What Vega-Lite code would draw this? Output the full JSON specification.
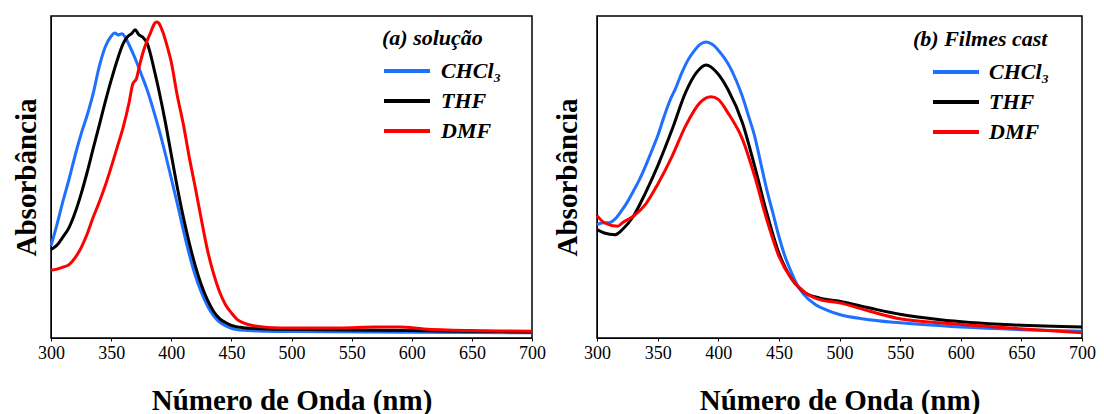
{
  "$schema": "https://vega.github.io/schema/vega-lite/v6.json",
  "background": "white",
  "padding": {"left": 11, "top": 15, "right": 5, "bottom": 0},
  "spacing": 5,
  "config": {
    "font": "Liberation Serif",
    "view": {"stroke": "#000", "strokeWidth": 1.5},
    "axis": {"grid": false, "labelFont": "Liberation Serif", "titleFont": "Liberation Serif", "labelColor": "#000", "titleColor": "#000", "domainColor": "#000", "tickColor": "#000"},
    "legend": {"padding": 0, "symbolType": "stroke", "symbolSize": 2116, "symbolStrokeWidth": 4, "labelFont": "Liberation Serif", "labelFontSize": 22, "labelFontStyle": "italic", "labelFontWeight": "bold", "labelColor": "#000", "titleFont": "Liberation Serif", "titleFontSize": 22, "titleFontStyle": "italic", "titleFontWeight": "bold", "titleColor": "#000", "titleLimit": 400, "rowPadding": 8, "clipHeight": 22, "labelOffset": 9, "titlePadding": 10}
  },
  "datasets": {
    "a": [
      {"solvent": "CHCl₃", "wl": 300, "abs": 0.286}, {"solvent": "CHCl₃", "wl": 305, "abs": 0.353}, {"solvent": "CHCl₃", "wl": 310, "abs": 0.426}, {"solvent": "CHCl₃", "wl": 315, "abs": 0.493}, {"solvent": "CHCl₃", "wl": 320, "abs": 0.566}, {"solvent": "CHCl₃", "wl": 325, "abs": 0.633}, {"solvent": "CHCl₃", "wl": 330, "abs": 0.691}, {"solvent": "CHCl₃", "wl": 335, "abs": 0.758}, {"solvent": "CHCl₃", "wl": 340, "abs": 0.841}, {"solvent": "CHCl₃", "wl": 345, "abs": 0.903}, {"solvent": "CHCl₃", "wl": 350, "abs": 0.937}, {"solvent": "CHCl₃", "wl": 353, "abs": 0.947}, {"solvent": "CHCl₃", "wl": 356, "abs": 0.941}, {"solvent": "CHCl₃", "wl": 359, "abs": 0.945}, {"solvent": "CHCl₃", "wl": 362, "abs": 0.932}, {"solvent": "CHCl₃", "wl": 365, "abs": 0.910}, {"solvent": "CHCl₃", "wl": 370, "abs": 0.868}, {"solvent": "CHCl₃", "wl": 375, "abs": 0.820}, {"solvent": "CHCl₃", "wl": 380, "abs": 0.770}, {"solvent": "CHCl₃", "wl": 385, "abs": 0.710}, {"solvent": "CHCl₃", "wl": 390, "abs": 0.645}, {"solvent": "CHCl₃", "wl": 395, "abs": 0.573}, {"solvent": "CHCl₃", "wl": 400, "abs": 0.496}, {"solvent": "CHCl₃", "wl": 405, "abs": 0.418}, {"solvent": "CHCl₃", "wl": 410, "abs": 0.336}, {"solvent": "CHCl₃", "wl": 415, "abs": 0.260}, {"solvent": "CHCl₃", "wl": 420, "abs": 0.194}, {"solvent": "CHCl₃", "wl": 425, "abs": 0.142}, {"solvent": "CHCl₃", "wl": 430, "abs": 0.101}, {"solvent": "CHCl₃", "wl": 435, "abs": 0.070}, {"solvent": "CHCl₃", "wl": 440, "abs": 0.050}, {"solvent": "CHCl₃", "wl": 445, "abs": 0.038}, {"solvent": "CHCl₃", "wl": 450, "abs": 0.030}, {"solvent": "CHCl₃", "wl": 460, "abs": 0.024}, {"solvent": "CHCl₃", "wl": 480, "abs": 0.021}, {"solvent": "CHCl₃", "wl": 500, "abs": 0.020}, {"solvent": "CHCl₃", "wl": 600, "abs": 0.018}, {"solvent": "CHCl₃", "wl": 700, "abs": 0.016},
      {"solvent": "THF", "wl": 300, "abs": 0.275}, {"solvent": "THF", "wl": 303, "abs": 0.282}, {"solvent": "THF", "wl": 306, "abs": 0.293}, {"solvent": "THF", "wl": 310, "abs": 0.314}, {"solvent": "THF", "wl": 315, "abs": 0.343}, {"solvent": "THF", "wl": 320, "abs": 0.389}, {"solvent": "THF", "wl": 325, "abs": 0.447}, {"solvent": "THF", "wl": 330, "abs": 0.514}, {"solvent": "THF", "wl": 335, "abs": 0.587}, {"solvent": "THF", "wl": 340, "abs": 0.659}, {"solvent": "THF", "wl": 345, "abs": 0.732}, {"solvent": "THF", "wl": 350, "abs": 0.800}, {"solvent": "THF", "wl": 355, "abs": 0.862}, {"solvent": "THF", "wl": 360, "abs": 0.914}, {"solvent": "THF", "wl": 364, "abs": 0.937}, {"solvent": "THF", "wl": 367, "abs": 0.945}, {"solvent": "THF", "wl": 370, "abs": 0.957}, {"solvent": "THF", "wl": 373, "abs": 0.942}, {"solvent": "THF", "wl": 376, "abs": 0.935}, {"solvent": "THF", "wl": 380, "abs": 0.915}, {"solvent": "THF", "wl": 383, "abs": 0.878}, {"solvent": "THF", "wl": 386, "abs": 0.830}, {"solvent": "THF", "wl": 390, "abs": 0.764}, {"solvent": "THF", "wl": 395, "abs": 0.672}, {"solvent": "THF", "wl": 400, "abs": 0.570}, {"solvent": "THF", "wl": 405, "abs": 0.468}, {"solvent": "THF", "wl": 410, "abs": 0.376}, {"solvent": "THF", "wl": 415, "abs": 0.295}, {"solvent": "THF", "wl": 420, "abs": 0.224}, {"solvent": "THF", "wl": 425, "abs": 0.165}, {"solvent": "THF", "wl": 430, "abs": 0.119}, {"solvent": "THF", "wl": 435, "abs": 0.084}, {"solvent": "THF", "wl": 440, "abs": 0.061}, {"solvent": "THF", "wl": 445, "abs": 0.048}, {"solvent": "THF", "wl": 450, "abs": 0.039}, {"solvent": "THF", "wl": 460, "abs": 0.032}, {"solvent": "THF", "wl": 480, "abs": 0.028}, {"solvent": "THF", "wl": 500, "abs": 0.027}, {"solvent": "THF", "wl": 550, "abs": 0.025}, {"solvent": "THF", "wl": 600, "abs": 0.023}, {"solvent": "THF", "wl": 650, "abs": 0.021}, {"solvent": "THF", "wl": 700, "abs": 0.019},
      {"solvent": "DMF", "wl": 300, "abs": 0.210}, {"solvent": "DMF", "wl": 305, "abs": 0.214}, {"solvent": "DMF", "wl": 310, "abs": 0.220}, {"solvent": "DMF", "wl": 315, "abs": 0.228}, {"solvent": "DMF", "wl": 320, "abs": 0.249}, {"solvent": "DMF", "wl": 325, "abs": 0.280}, {"solvent": "DMF", "wl": 330, "abs": 0.322}, {"solvent": "DMF", "wl": 335, "abs": 0.374}, {"solvent": "DMF", "wl": 340, "abs": 0.421}, {"solvent": "DMF", "wl": 345, "abs": 0.472}, {"solvent": "DMF", "wl": 350, "abs": 0.530}, {"solvent": "DMF", "wl": 355, "abs": 0.592}, {"solvent": "DMF", "wl": 360, "abs": 0.654}, {"solvent": "DMF", "wl": 365, "abs": 0.732}, {"solvent": "DMF", "wl": 368, "abs": 0.789}, {"solvent": "DMF", "wl": 371, "abs": 0.805}, {"solvent": "DMF", "wl": 374, "abs": 0.852}, {"solvent": "DMF", "wl": 377, "abs": 0.893}, {"solvent": "DMF", "wl": 380, "abs": 0.924}, {"solvent": "DMF", "wl": 383, "abs": 0.950}, {"solvent": "DMF", "wl": 386, "abs": 0.976}, {"solvent": "DMF", "wl": 388, "abs": 0.981}, {"solvent": "DMF", "wl": 390, "abs": 0.976}, {"solvent": "DMF", "wl": 393, "abs": 0.950}, {"solvent": "DMF", "wl": 396, "abs": 0.914}, {"solvent": "DMF", "wl": 400, "abs": 0.857}, {"solvent": "DMF", "wl": 405, "abs": 0.753}, {"solvent": "DMF", "wl": 410, "abs": 0.665}, {"solvent": "DMF", "wl": 415, "abs": 0.561}, {"solvent": "DMF", "wl": 420, "abs": 0.467}, {"solvent": "DMF", "wl": 425, "abs": 0.369}, {"solvent": "DMF", "wl": 430, "abs": 0.275}, {"solvent": "DMF", "wl": 435, "abs": 0.202}, {"solvent": "DMF", "wl": 440, "abs": 0.145}, {"solvent": "DMF", "wl": 445, "abs": 0.104}, {"solvent": "DMF", "wl": 450, "abs": 0.078}, {"solvent": "DMF", "wl": 455, "abs": 0.057}, {"solvent": "DMF", "wl": 460, "abs": 0.047}, {"solvent": "DMF", "wl": 470, "abs": 0.037}, {"solvent": "DMF", "wl": 480, "abs": 0.033}, {"solvent": "DMF", "wl": 500, "abs": 0.031}, {"solvent": "DMF", "wl": 540, "abs": 0.031}, {"solvent": "DMF", "wl": 570, "abs": 0.034}, {"solvent": "DMF", "wl": 590, "abs": 0.034}, {"solvent": "DMF", "wl": 610, "abs": 0.028}, {"solvent": "DMF", "wl": 650, "abs": 0.023}, {"solvent": "DMF", "wl": 700, "abs": 0.021}
    ],
    "b": [
      {"solvent": "CHCl₃", "wl": 300, "abs": 0.352}, {"solvent": "CHCl₃", "wl": 305, "abs": 0.358}, {"solvent": "CHCl₃", "wl": 310, "abs": 0.358}, {"solvent": "CHCl₃", "wl": 315, "abs": 0.370}, {"solvent": "CHCl₃", "wl": 320, "abs": 0.394}, {"solvent": "CHCl₃", "wl": 325, "abs": 0.422}, {"solvent": "CHCl₃", "wl": 330, "abs": 0.456}, {"solvent": "CHCl₃", "wl": 335, "abs": 0.492}, {"solvent": "CHCl₃", "wl": 340, "abs": 0.534}, {"solvent": "CHCl₃", "wl": 345, "abs": 0.580}, {"solvent": "CHCl₃", "wl": 350, "abs": 0.627}, {"solvent": "CHCl₃", "wl": 355, "abs": 0.684}, {"solvent": "CHCl₃", "wl": 360, "abs": 0.736}, {"solvent": "CHCl₃", "wl": 365, "abs": 0.777}, {"solvent": "CHCl₃", "wl": 370, "abs": 0.824}, {"solvent": "CHCl₃", "wl": 375, "abs": 0.863}, {"solvent": "CHCl₃", "wl": 380, "abs": 0.891}, {"solvent": "CHCl₃", "wl": 385, "abs": 0.912}, {"solvent": "CHCl₃", "wl": 390, "abs": 0.919}, {"solvent": "CHCl₃", "wl": 395, "abs": 0.912}, {"solvent": "CHCl₃", "wl": 400, "abs": 0.894}, {"solvent": "CHCl₃", "wl": 405, "abs": 0.870}, {"solvent": "CHCl₃", "wl": 410, "abs": 0.839}, {"solvent": "CHCl₃", "wl": 415, "abs": 0.798}, {"solvent": "CHCl₃", "wl": 420, "abs": 0.749}, {"solvent": "CHCl₃", "wl": 425, "abs": 0.689}, {"solvent": "CHCl₃", "wl": 430, "abs": 0.627}, {"solvent": "CHCl₃", "wl": 435, "abs": 0.544}, {"solvent": "CHCl₃", "wl": 440, "abs": 0.461}, {"solvent": "CHCl₃", "wl": 445, "abs": 0.389}, {"solvent": "CHCl₃", "wl": 450, "abs": 0.316}, {"solvent": "CHCl₃", "wl": 455, "abs": 0.254}, {"solvent": "CHCl₃", "wl": 460, "abs": 0.207}, {"solvent": "CHCl₃", "wl": 465, "abs": 0.166}, {"solvent": "CHCl₃", "wl": 470, "abs": 0.138}, {"solvent": "CHCl₃", "wl": 480, "abs": 0.104}, {"solvent": "CHCl₃", "wl": 490, "abs": 0.086}, {"solvent": "CHCl₃", "wl": 500, "abs": 0.073}, {"solvent": "CHCl₃", "wl": 520, "abs": 0.059}, {"solvent": "CHCl₃", "wl": 550, "abs": 0.047}, {"solvent": "CHCl₃", "wl": 600, "abs": 0.034}, {"solvent": "CHCl₃", "wl": 650, "abs": 0.026}, {"solvent": "CHCl₃", "wl": 700, "abs": 0.021},
      {"solvent": "THF", "wl": 300, "abs": 0.337}, {"solvent": "THF", "wl": 306, "abs": 0.326}, {"solvent": "THF", "wl": 315, "abs": 0.321}, {"solvent": "THF", "wl": 321, "abs": 0.337}, {"solvent": "THF", "wl": 330, "abs": 0.378}, {"solvent": "THF", "wl": 340, "abs": 0.451}, {"solvent": "THF", "wl": 350, "abs": 0.534}, {"solvent": "THF", "wl": 362, "abs": 0.648}, {"solvent": "THF", "wl": 373, "abs": 0.762}, {"solvent": "THF", "wl": 382, "abs": 0.824}, {"solvent": "THF", "wl": 390, "abs": 0.848}, {"solvent": "THF", "wl": 399, "abs": 0.824}, {"solvent": "THF", "wl": 408, "abs": 0.772}, {"solvent": "THF", "wl": 420, "abs": 0.668}, {"solvent": "THF", "wl": 430, "abs": 0.534}, {"solvent": "THF", "wl": 440, "abs": 0.389}, {"solvent": "THF", "wl": 450, "abs": 0.264}, {"solvent": "THF", "wl": 461, "abs": 0.181}, {"solvent": "THF", "wl": 472, "abs": 0.140}, {"solvent": "THF", "wl": 484, "abs": 0.124}, {"solvent": "THF", "wl": 500, "abs": 0.114}, {"solvent": "THF", "wl": 525, "abs": 0.093}, {"solvent": "THF", "wl": 551, "abs": 0.073}, {"solvent": "THF", "wl": 583, "abs": 0.057}, {"solvent": "THF", "wl": 641, "abs": 0.041}, {"solvent": "THF", "wl": 700, "abs": 0.034},
      {"solvent": "DMF", "wl": 300, "abs": 0.380}, {"solvent": "DMF", "wl": 306, "abs": 0.358}, {"solvent": "DMF", "wl": 317, "abs": 0.347}, {"solvent": "DMF", "wl": 321, "abs": 0.358}, {"solvent": "DMF", "wl": 330, "abs": 0.378}, {"solvent": "DMF", "wl": 340, "abs": 0.415}, {"solvent": "DMF", "wl": 350, "abs": 0.477}, {"solvent": "DMF", "wl": 362, "abs": 0.565}, {"solvent": "DMF", "wl": 373, "abs": 0.658}, {"solvent": "DMF", "wl": 385, "abs": 0.731}, {"solvent": "DMF", "wl": 394, "abs": 0.749}, {"solvent": "DMF", "wl": 400, "abs": 0.741}, {"solvent": "DMF", "wl": 408, "abs": 0.699}, {"solvent": "DMF", "wl": 420, "abs": 0.617}, {"solvent": "DMF", "wl": 430, "abs": 0.503}, {"solvent": "DMF", "wl": 440, "abs": 0.368}, {"solvent": "DMF", "wl": 450, "abs": 0.254}, {"solvent": "DMF", "wl": 461, "abs": 0.181}, {"solvent": "DMF", "wl": 472, "abs": 0.140}, {"solvent": "DMF", "wl": 484, "abs": 0.119}, {"solvent": "DMF", "wl": 500, "abs": 0.109}, {"solvent": "DMF", "wl": 525, "abs": 0.083}, {"solvent": "DMF", "wl": 551, "abs": 0.059}, {"solvent": "DMF", "wl": 583, "abs": 0.047}, {"solvent": "DMF", "wl": 641, "abs": 0.031}, {"solvent": "DMF", "wl": 700, "abs": 0.016}
    ]
  },
  "resolve": {"legend": {"color": "independent"}},
  "hconcat": [
    {
      "width": 481, "height": 322,
      "data": {"name": "a"},
      "mark": {"type": "line", "strokeWidth": 3, "interpolate": "monotone"},
      "encoding": {
        "x": {"field": "wl", "type": "quantitative", "scale": {"domain": [300, 700], "nice": false, "zero": false},
              "axis": {"title": "Número de Onda (nm)", "values": [300, 350, 400, 450, 500, 550, 600, 650, 700], "labelFontSize": 18, "labelFlush": false, "labelOverlap": false, "labelPadding": 3, "tickSize": 3, "titleFontSize": 29, "titleFontWeight": "bold", "titlePadding": 24}},
        "y": {"field": "abs", "type": "quantitative", "scale": {"domain": [0, 1], "nice": false, "zero": false},
              "axis": {"title": "Absorbância", "labels": false, "ticks": false, "titleFontSize": 29, "titleFontWeight": "bold", "titlePadding": 10}},
        "color": {"field": "solvent", "type": "nominal", "scale": {"domain": ["CHCl₃", "THF", "DMF"], "range": ["#1f70ff", "#000000", "#ff0000"]},
                  "legend": {"title": "(a) solução", "orient": "none", "legendX": 331, "legendY": 12, "symbolOffset": 0}}
      }
    },
    {
      "width": 485, "height": 322,
      "data": {"name": "b"},
      "mark": {"type": "line", "strokeWidth": 3, "interpolate": "monotone"},
      "encoding": {
        "x": {"field": "wl", "type": "quantitative", "scale": {"domain": [300, 700], "nice": false, "zero": false},
              "axis": {"title": "Número de Onda (nm)", "values": [300, 350, 400, 450, 500, 550, 600, 650, 700], "labelFontSize": 18, "labelFlush": false, "labelOverlap": false, "labelPadding": 3, "tickSize": 3, "titleFontSize": 29, "titleFontWeight": "bold", "titlePadding": 24}},
        "y": {"field": "abs", "type": "quantitative", "scale": {"domain": [0, 1], "nice": false, "zero": false},
              "axis": {"title": "Absorbância", "labels": false, "ticks": false, "titleFontSize": 29, "titleFontWeight": "bold", "titlePadding": 15}},
        "color": {"field": "solvent", "type": "nominal", "scale": {"domain": ["CHCl₃", "THF", "DMF"], "range": ["#1f70ff", "#000000", "#ff0000"]},
                  "legend": {"title": "(b) Filmes cast", "orient": "none", "legendX": 316, "legendY": 13, "symbolOffset": 18, "labelOffset": 8}}
      }
    }
  ]
}
